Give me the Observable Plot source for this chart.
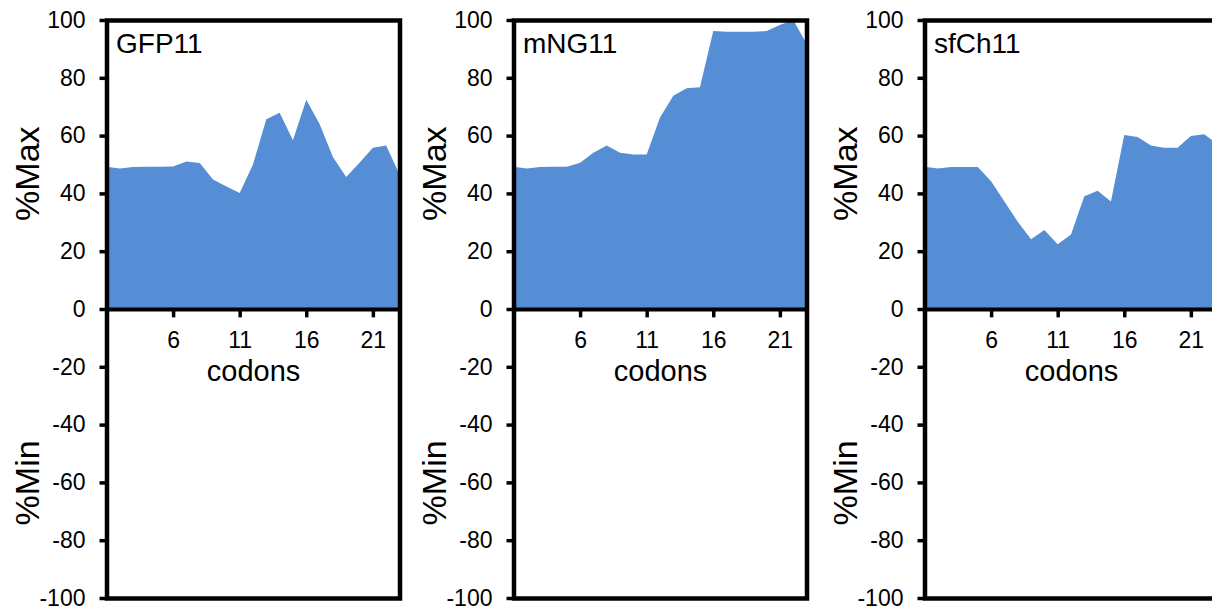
<!DOCTYPE html>
<html>
<head>
<meta charset="utf-8">
<script src="https://cdn.jsdelivr.net/npm/d3@7"></script>
<script src="https://cdn.jsdelivr.net/npm/@observablehq/plot@0.6"></script>
<style>
  html, body { margin: 0; padding: 0; background: #fff; overflow: hidden; }
  #wrap { position: relative; width: 1212px; height: 611px; overflow: hidden; }
  #wrap svg { position: absolute; top: 0; }
</style>
</head>
<body>
<div id="wrap"></div>
<script>
// ---- data ----
const codons = d3.range(1, 24); // 1..23
const panelNames = ["GFP11", "mNG11", "sfCh11"];
const gfp11 = [49.2, 48.6, 49.1, 49.2, 49.2, 49.3, 51.0, 50.5, 44.8, 42.4, 40.1, 50.0, 65.7, 67.9, 58.4, 72.4, 64.0, 52.6, 45.7, 50.6, 55.8, 56.6, 46.5];
const mng11 = [49.2, 48.6, 49.1, 49.2, 49.2, 50.6, 54.1, 56.6, 54.1, 53.5, 53.5, 66.3, 73.8, 76.4, 76.7, 96.2, 95.9, 95.9, 95.9, 96.2, 98.3, 100.0, 91.9];
const sfch11 = [49.2, 48.6, 49.1, 49.1, 49.1, 44.2, 37.2, 30.2, 24.1, 27.3, 22.4, 25.8, 39.0, 40.9, 37.2, 60.2, 59.5, 56.6, 55.8, 55.8, 59.9, 60.5, 57.0];
const seriesValues = [gfp11, mng11, sfch11];
const xTickValues = [6, 11, 16, 21];
const xTickLabels = ["6", "11", "16", "21"];
const yTickValues = [-100, -80, -60, -40, -20, 0, 20, 40, 60, 80, 100];
const yTickLabels = ["-100", "-80", "-60", "-40", "-20", "0", "20", "40", "60", "80", "100"];
const xLabel = "codons";
const yLabelTop = "%Max";
const yLabelBottom = "%Min";

// ---- layout ----
const panelLefts = [0, 407, 818];
const fill = "#558ED5";
const font = "'Liberation Sans', Arial, sans-serif";

const wrap = document.getElementById("wrap");

panelNames.forEach((name, p) => {
  const data = codons.map((c, i) => ({codon: c, value: seriesValues[p][i]}));
  const xt = xTickValues.map((v, i) => ({v, label: xTickLabels[i]}));
  const chart = Plot.plot({
    width: 408,
    height: 611,
    marginLeft: 106.5,
    marginRight: 8.5,
    marginTop: 20,
    marginBottom: 13,
    style: {fontFamily: font, fontSize: "23px", color: "black", background: "transparent", overflow: "visible"},
    x: {domain: [1, 23], axis: null},
    y: {domain: [-100, 100], axis: null},
    marks: [
      Plot.areaY(data, {x: "codon", y: "value", fill: fill, curve: "linear"}),
      Plot.ruleY([0], {stroke: "black", strokeWidth: 4}),
      Plot.ruleX(xt, {x: "v", y1: 0, y2: -2.9, stroke: "black", strokeWidth: 3.5}),
      Plot.text(xt, {x: "v", y: 0, dy: 31, text: "label", fontSize: 23, fill: "black"}),
      Plot.axisY({
        ticks: yTickValues,
        tickFormat: (d) => yTickLabels[yTickValues.indexOf(d)],
        tickSize: 7,
        tickPadding: 14.5,
        strokeWidth: 3.5,
        fontSize: 23,
        label: null
      }),
      Plot.frame({stroke: "black", strokeWidth: 4.5}),
      Plot.text([name], {frameAnchor: "top-left", dx: 9, dy: 13, textAnchor: "start", lineAnchor: "top", fontSize: 28, fill: "black"}),
      Plot.text([xLabel], {x: 12, y: -21.5, fontSize: 29, fill: "black"}),
      Plot.text([yLabelTop], {frameAnchor: "left", y: 47, dx: -79, rotate: -90, textAnchor: "middle", lineAnchor: "middle", fontSize: 34, fill: "black"}),
      Plot.text([yLabelBottom], {frameAnchor: "left", y: -60, dx: -79, rotate: -90, textAnchor: "middle", lineAnchor: "middle", fontSize: 34, fill: "black"})
    ]
  });
  chart.style.left = panelLefts[p] + "px";
  wrap.appendChild(chart);
});
</script>
</body>
</html>
